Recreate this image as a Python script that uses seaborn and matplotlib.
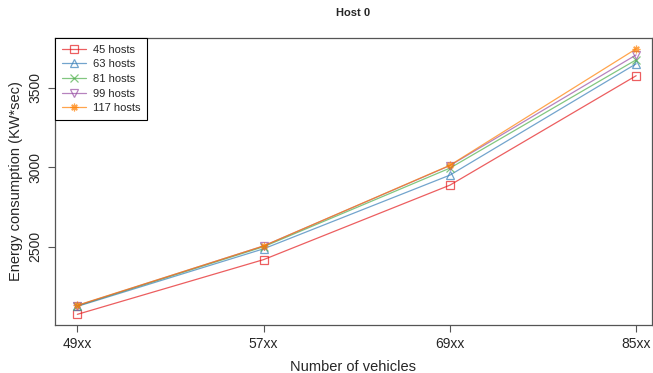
import matplotlib
matplotlib.use("Agg")
import matplotlib.pyplot as plt
import seaborn as sns
import pandas as pd

categories = ["49xx", "57xx", "69xx", "85xx"]
series_names = ["45 hosts", "63 hosts", "81 hosts", "99 hosts", "117 hosts"]
hosts_45 = [2075, 2419, 2887, 3575]
hosts_63 = [2125, 2487, 2950, 3650]
hosts_81 = [2128, 2500, 2994, 3675]
hosts_99 = [2130, 2505, 3010, 3706]
hosts_117 = [2132, 2505, 3012, 3744]
yticks = [2500, 3000, 3500]

values = [hosts_45, hosts_63, hosts_81, hosts_99, hosts_117]
colors = ["#E41A1C", "#377EB8", "#4DAF4A", "#984EA3", "#FF7F00"]
markers = ["s", "^", "x", "v", (8, 2, 0)]

sns.set_style("white")
plt.rcParams['font.family'] = ['Liberation Sans', 'DejaVu Sans']

fig = plt.figure(figsize=(6.53, 3.73), dpi=100)
ax = fig.add_axes([55/653, 1-325/373, (652-55)/653, (325-38)/373])

for name, vals, c, m in zip(series_names, values, colors, markers):
    df = pd.DataFrame({"x": categories, "y": vals})
    sns.lineplot(data=df, x="x", y="y", ax=ax, color=c, marker=m,
                 markerfacecolor="none", markeredgecolor=c, markersize=5.5,
                 markeredgewidth=0.9, linewidth=0.9, alpha=0.7, label=name)

ax.set_xlim(-0.12, 3.085)
ax.set_ylim(2008, 3812)
ax.set_yticks(yticks)
ax.set_yticklabels([str(t) for t in yticks], rotation=90, va="center")
ax.tick_params(axis="both", direction="out", length=5, width=0.8,
               color="#555555", labelsize=10, left=True, bottom=True, pad=4)
for s in ax.spines.values():
    s.set_color("#555555")
    s.set_linewidth(0.9)

ax.set_xlabel("Number of vehicles", fontsize=10.5, labelpad=6)
ax.set_ylabel("Energy consumption (KW*sec)", fontsize=10.5)
ax.set_title("Host 0", fontsize=8, fontweight="bold", pad=16)

leg = ax.legend(loc="upper left", fancybox=False, edgecolor="black",
                borderaxespad=0, fontsize=8, framealpha=1,
                handlelength=2.2, handletextpad=0.6, labelspacing=0.42,
                borderpad=0.6)
leg.get_frame().set_linewidth(0.8)

fig.savefig("out.png", dpi=100)
